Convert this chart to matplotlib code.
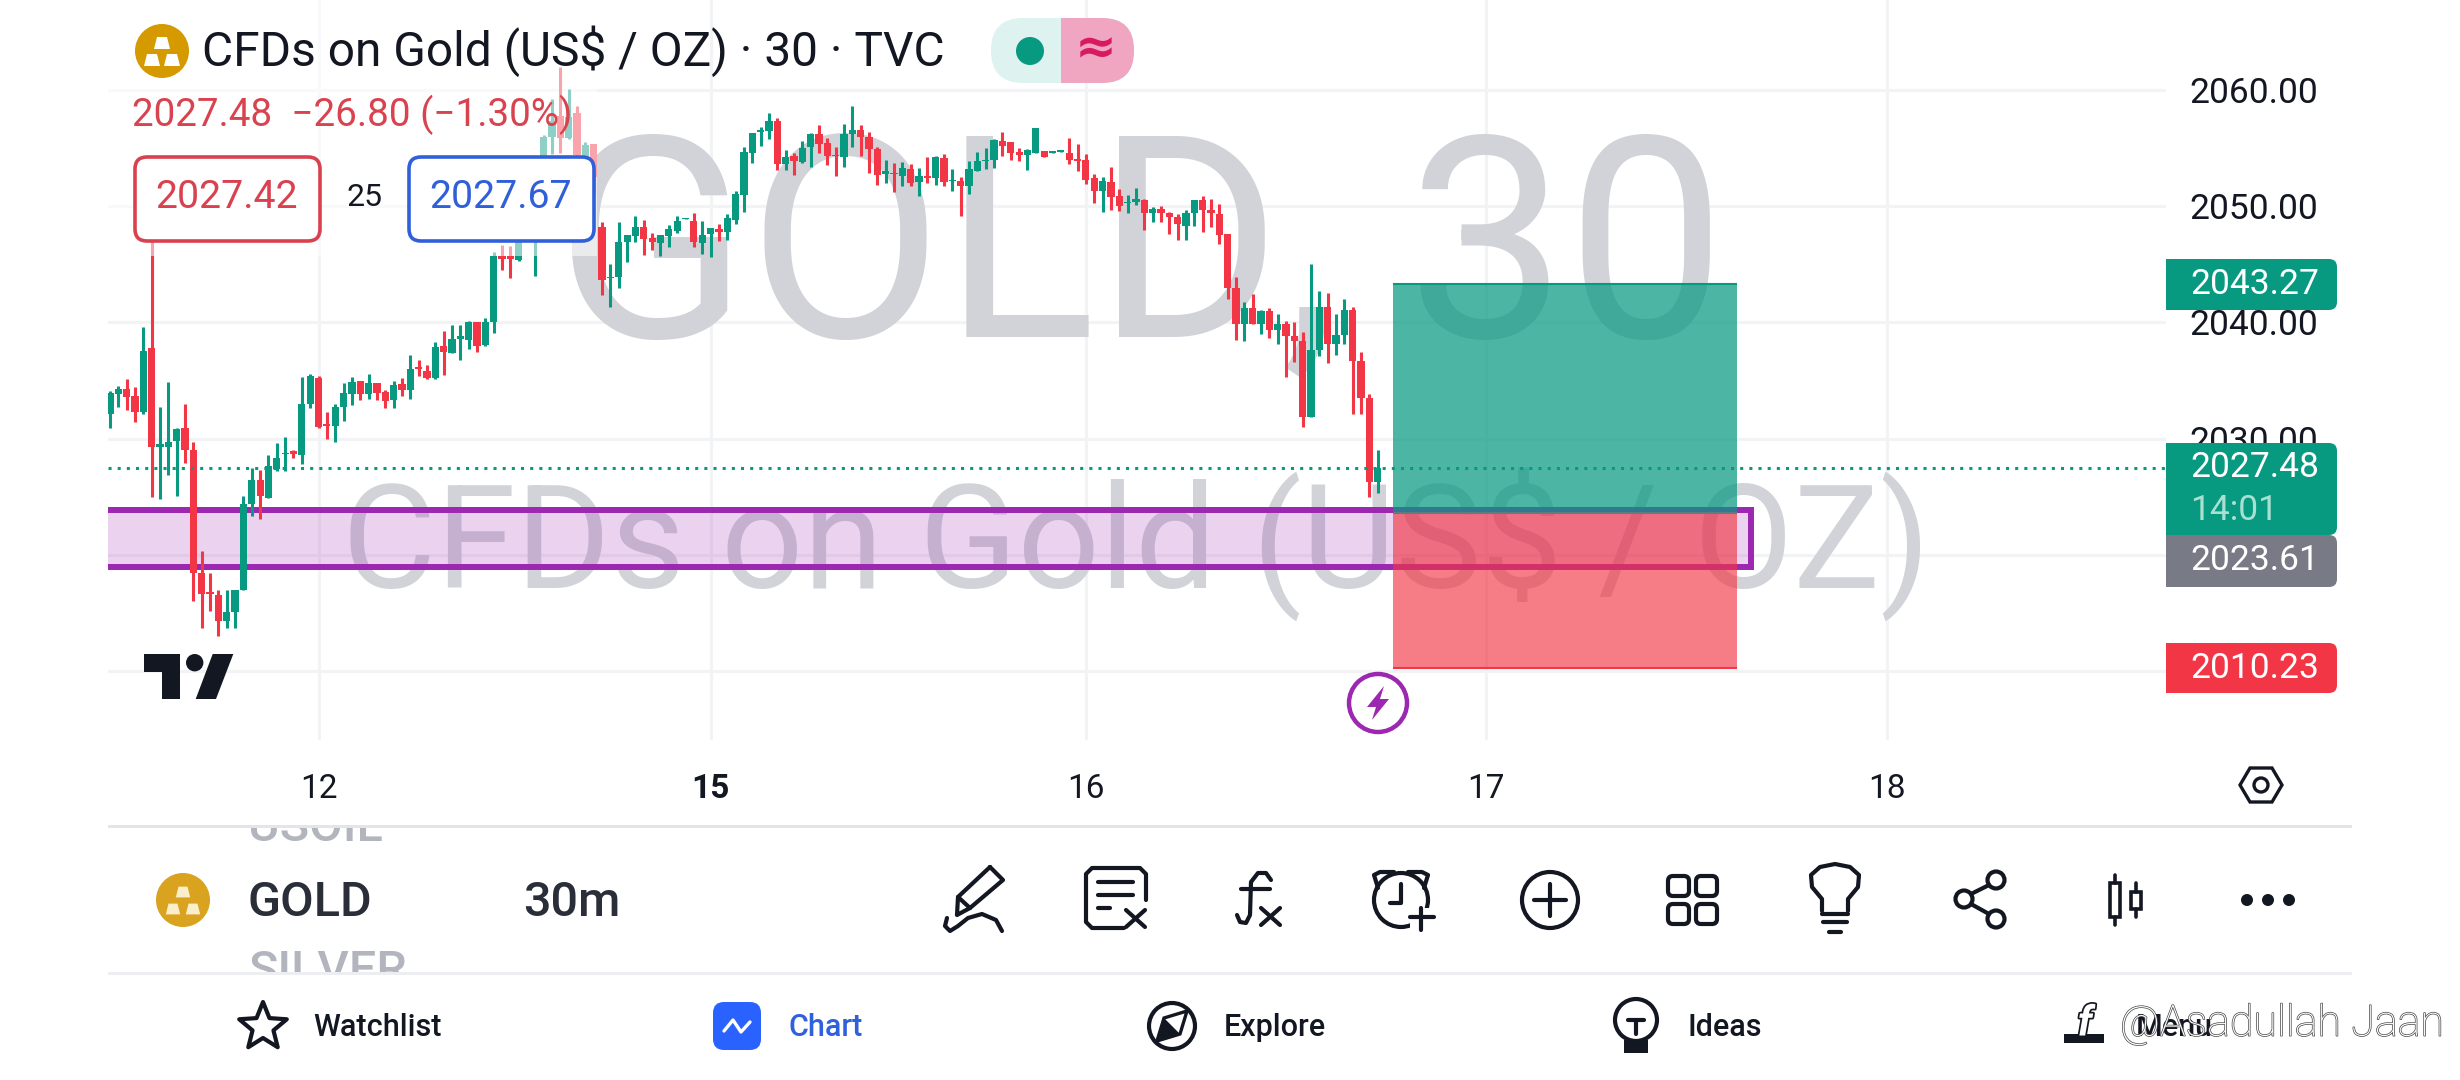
"""TradingView mobile screenshot: GOLD 30m candles with a long position and a zone."""

import matplotlib
matplotlib.use("Agg")
import matplotlib.patheffects as pe
import matplotlib.pyplot as plt
import numpy as np
from matplotlib.patches import Circle, FancyBboxPatch, Polygon, Rectangle

plt.rcParams["font.family"] = ["Roboto", "DejaVu Sans"]

opens = [
    2032.1, 2033.8, 2034.3, 2033.7, 2032.3, 2037.8, 2029.3, 2029.3, 2029.8, 2030.9,
    2029.0, 2018.4, 2016.8, 2016.5, 2014.3, 2015.1, 2017.0, 2024.4, 2026.4, 2024.9,
    2027.4, 2028.7, 2028.9, 2028.6, 2033.0, 2035.2, 2031.3, 2031.1, 2032.75, 2033.8,
    2035.0, 2033.8, 2034.8, 2034.0, 2033.3, 2034.7, 2034.2, 2036.2, 2035.8, 2035.2,
    2038.0, 2037.4, 2038.6, 2038.5, 2040.0, 2038.05, 2040.0, 2045.7, 2045.7, 2045.4,
    2049.1, 2048.2, 2054.0, 2056.0, 2057.8, 2055.9, 2058.05, 2052.5, 2055.35, 2048.2,
    2043.8, 2043.9, 2046.9, 2047.4, 2048.2, 2047.3, 2046.8, 2047.4, 2047.9, 2048.9,
    2048.7, 2046.8, 2047.6, 2048.0, 2047.8, 2048.8, 2051.0, 2054.55, 2056.4, 2056.5,
    2057.3, 2053.6, 2054.3, 2053.8, 2055.1, 2056.2, 2055.4, 2054.4, 2054.2, 2056.2,
    2056.55, 2056.0, 2054.9, 2052.8, 2052.9, 2052.6, 2053.2, 2052.1, 2052.6, 2052.4,
    2054.15, 2052.2, 2052.2, 2051.7, 2053.05, 2053.9, 2054.0, 2055.6, 2055.5, 2054.7,
    2054.4, 2054.6, 2054.75, 2054.6, 2054.7, 2054.55, 2054.1, 2054.0, 2052.4, 2051.3,
    2052.1, 2050.9, 2050.25, 2050.4, 2050.5, 2049.4, 2049.8, 2049.4, 2049.05, 2048.3,
    2049.4, 2050.5, 2049.7, 2049.3, 2047.6, 2043.0, 2039.9, 2041.25, 2039.9, 2041.0,
    2039.35, 2039.9, 2038.8, 2038.4, 2031.85, 2037.6, 2041.3, 2038.15, 2038.95, 2041.1,
    2036.7, 2033.5, 2026.3,
]
highs = [
    2034.1, 2034.5, 2035.1, 2034.4, 2039.6, 2050.0, 2032.7, 2034.9, 2030.9, 2033.0,
    2029.7, 2020.3, 2018.4, 2017.0, 2017.0, 2017.0, 2025.1, 2027.5, 2027.3, 2028.6,
    2029.6, 2030.1, 2029.0, 2035.3, 2035.6, 2035.4, 2032.3, 2033.0, 2034.8, 2035.3,
    2035.0, 2035.6, 2034.8, 2034.2, 2035.0, 2035.2, 2037.2, 2036.8, 2036.3, 2038.3,
    2039.3, 2039.75, 2039.8, 2040.1, 2040.0, 2040.35, 2046.1, 2046.7, 2046.6, 2048.2,
    2051.1, 2051.1, 2056.1, 2059.2, 2062.0, 2060.1, 2058.6, 2055.5, 2055.35, 2048.6,
    2045.0, 2048.6, 2047.5, 2049.15, 2048.8, 2047.7, 2047.5, 2048.4, 2049.15, 2049.0,
    2049.4, 2048.7, 2048.1, 2048.5, 2049.3, 2051.3, 2055.1, 2056.3, 2056.8, 2058.0,
    2057.6, 2054.8, 2054.55, 2055.6, 2056.3, 2057.0, 2055.9, 2055.1, 2057.1, 2058.6,
    2057.0, 2056.4, 2055.1, 2054.0, 2053.75, 2053.8, 2053.6, 2053.3, 2054.2, 2054.3,
    2054.5, 2053.2, 2052.5, 2053.9, 2054.7, 2055.0, 2055.8, 2056.4, 2055.55, 2055.0,
    2054.9, 2056.7, 2054.75, 2054.75, 2054.8, 2055.85, 2055.35, 2054.5, 2052.8, 2052.5,
    2053.35, 2051.45, 2051.0, 2051.6, 2050.65, 2049.9, 2050.0, 2049.5, 2049.3, 2049.7,
    2050.5, 2050.9, 2050.6, 2050.2, 2047.6, 2043.9, 2041.8, 2042.45, 2041.1, 2041.2,
    2040.7, 2040.1, 2040.0, 2039.2, 2045.0, 2042.7, 2042.5, 2040.7, 2042.0, 2041.3,
    2037.45, 2033.8, 2029.0,
]
lows = [
    2030.9, 2032.7, 2032.5, 2031.4, 2032.1, 2025.0, 2024.8, 2026.9, 2025.1, 2027.9,
    2016.05, 2013.7, 2015.2, 2013.0, 2013.7, 2013.7, 2017.0, 2023.3, 2023.05, 2024.9,
    2027.2, 2027.2, 2028.3, 2027.8, 2032.6, 2030.9, 2030.0, 2029.7, 2031.5, 2032.9,
    2033.3, 2033.4, 2033.3, 2032.6, 2032.6, 2033.7, 2033.4, 2035.4, 2035.1, 2035.1,
    2035.5, 2037.4, 2036.8, 2037.7, 2037.45, 2038.0, 2039.1, 2044.5, 2043.8, 2045.3,
    2048.5, 2044.0, 2053.1, 2054.5, 2054.6, 2055.8, 2053.7, 2052.0, 2051.1, 2042.4,
    2041.3, 2043.0, 2045.2, 2046.95, 2045.8, 2046.2, 2045.7, 2046.5, 2047.7, 2048.9,
    2046.5, 2045.9, 2045.6, 2047.0, 2047.1, 2048.5, 2049.5, 2053.7, 2055.2, 2055.8,
    2053.1, 2053.1, 2052.7, 2053.7, 2053.4, 2054.6, 2053.55, 2052.6, 2053.4, 2055.1,
    2054.3, 2052.9, 2051.8, 2052.0, 2051.2, 2051.7, 2051.7, 2050.9, 2052.0, 2051.8,
    2051.7, 2051.3, 2049.2, 2051.05, 2053.0, 2053.2, 2053.3, 2054.3, 2054.0, 2053.9,
    2053.1, 2054.6, 2054.2, 2054.6, 2054.7, 2053.6, 2053.0, 2051.9, 2050.3, 2049.5,
    2049.7, 2049.6, 2049.45, 2050.1, 2047.95, 2048.6, 2048.65, 2047.6, 2047.1, 2047.1,
    2048.3, 2047.8, 2048.25, 2046.75, 2042.0, 2038.5, 2038.4, 2039.9, 2039.0, 2038.7,
    2038.1, 2035.3, 2036.6, 2031.0, 2031.85, 2037.1, 2036.5, 2037.2, 2038.15, 2032.1,
    2032.1, 2025.0, 2025.35,
]
closes = [
    2033.9, 2034.3, 2033.6, 2032.3, 2037.5, 2029.3, 2029.5, 2029.7, 2030.8, 2029.0,
    2018.4, 2016.6, 2016.6, 2014.3, 2015.1, 2017.0, 2024.4, 2026.4, 2025.1, 2027.6,
    2028.3, 2028.8, 2028.7, 2033.0, 2035.4, 2031.0, 2031.1, 2032.7, 2033.9, 2034.9,
    2033.8, 2034.8, 2033.9, 2033.2, 2034.6, 2034.2, 2036.0, 2036.0, 2035.2, 2037.85,
    2037.45, 2038.6, 2038.8, 2040.0, 2038.0, 2040.0, 2045.7, 2045.5, 2045.5, 2046.95,
    2050.5, 2050.0, 2056.0, 2057.3, 2055.9, 2057.7, 2054.4, 2055.3, 2052.5, 2043.65,
    2043.9, 2046.95, 2047.5, 2048.2, 2047.2, 2046.9, 2047.5, 2048.0, 2048.7, 2049.0,
    2046.9, 2047.5, 2048.1, 2047.8, 2048.95, 2051.05, 2054.7, 2056.3, 2056.6, 2057.3,
    2053.6, 2054.2, 2053.9, 2055.0, 2056.2, 2055.35, 2054.3, 2054.3, 2056.2, 2056.6,
    2056.0, 2054.9, 2052.7, 2053.0, 2052.8, 2053.3, 2052.0, 2052.6, 2052.4, 2054.2,
    2052.1, 2052.3, 2051.7, 2053.2, 2053.9, 2054.0, 2055.7, 2055.2, 2054.6, 2054.4,
    2054.8, 2056.7, 2054.2, 2054.75, 2054.8, 2054.0, 2053.9, 2052.3, 2051.3, 2052.2,
    2050.8, 2050.0, 2050.4, 2050.6, 2049.45, 2049.8, 2049.4, 2049.05, 2048.5, 2049.4,
    2050.5, 2049.7, 2049.4, 2047.5, 2043.0, 2039.9, 2041.25, 2039.9, 2041.0, 2039.35,
    2039.9, 2038.8, 2038.4, 2031.9, 2037.6, 2041.3, 2038.15, 2038.95, 2041.1, 2036.7,
    2033.5, 2026.3, 2027.48,
]

price_ticks = [2060, 2050, 2040, 2030, 2020, 2010]
day_ticks = [25, 72, 117, 165, 213]
day_labels = ["12", "15", "16", "17", "18"]

last_price = 2027.48
position_top = 2043.27
position_entry = 2023.61
position_stop = 2010.23
position_start = 153.8
position_end = 195.1
zone_top = 2023.86
zone_bottom = 2018.98
zone_end = 196.8

UP = "#089981"
DOWN = "#f23645"
INK = "#131722"
PURPLE = "#9c27b0"
GRID = "#f1f3f5"
MARK = "#d1d3d8"

fig = plt.figure(figsize=(24.6, 10.8), dpi=100, facecolor="white")
ax = fig.add_axes([108 / 2460, 340 / 1080, 2058 / 2460, 740 / 1080])
ax.set_xlim(-0.24, 246.5)
ax.set_ylim(2004.06, 2067.75)
for side in ax.spines.values():
    side.set_visible(False)

ax.set_axisbelow(True)
ax.grid(True, color=GRID, lw=2.2)
ax.set_xticks(day_ticks, day_labels)
ax.set_yticks(price_ticks, [f"{p:.2f}" for p in price_ticks])
ax.yaxis.tick_right()
ax.tick_params(axis="both", length=0, labelsize=25.5, labelcolor=INK)
ax.tick_params(axis="x", pad=24, labelsize=24)
ax.tick_params(axis="y", pad=17)
ax.get_xticklabels()[1].set_fontweight("bold")

ax.text((1140 - 108) / 2058, 1 - 337 / 740, "GOLD, 30", transform=ax.transAxes, ha="center",
        va="baseline", fontsize=204, color=MARK, zorder=1)
ax.text((1136 - 108) / 2058, 1 - 588 / 740, "CFDs on Gold (US$ / OZ)", transform=ax.transAxes,
        ha="center", va="baseline", fontsize=104, color=MARK, zorder=1)

# zone sits under the candles, the position on top of the zone
ax.add_patch(Rectangle((-5, zone_bottom), zone_end + 5, zone_top - zone_bottom, facecolor=PURPLE,
                       alpha=0.2, lw=0, zorder=2))
ax.add_patch(Rectangle((-5, zone_bottom), zone_end + 5, zone_top - zone_bottom, fill=False,
                       edgecolor=PURPLE, lw=4.3, joinstyle="miter", zorder=2.1))

o = np.array(opens)
c = np.array(closes)
idx = np.arange(len(o))
colors = [UP if b >= a else DOWN for a, b in zip(o, c)]
ax.vlines(idx, lows, highs, colors=colors, lw=2.2, zorder=3)
ax.bar(idx, np.abs(c - o), bottom=np.minimum(o, c), width=0.87, color=colors, lw=0, zorder=3.1)

ax.axhline(last_price, color=UP, lw=2.2, ls=(0, (1, 2)), zorder=3.5)

span = position_end - position_start
ax.add_patch(Rectangle((position_start, position_entry), span, position_top - position_entry,
                       facecolor=UP, alpha=0.72, lw=0, zorder=4))
ax.add_patch(Rectangle((position_start, position_stop), span, position_entry - position_stop,
                       facecolor=DOWN, alpha=0.65, lw=0, zorder=4))
ax.hlines([position_top, position_entry, position_stop], position_start, position_end,
          colors=[UP, "#5f7d80", DOWN], lw=1.5, zorder=4.1)

# everything that is app chrome is drawn in screen pixels on a second axes
ui = fig.add_axes([0, 0, 1, 1], zorder=5)
ui.set_xlim(0, 2460)
ui.set_ylim(1080, 0)
ui.axis("off")
ui.patch.set_alpha(0)


def to_px(price):
    return 1080 - ax.transData.transform((0, price))[1]


def stroke(xs, ys, lw=3.0, color=INK, z=8):
    ui.plot(xs, ys, color=color, lw=lw, solid_capstyle="round", solid_joinstyle="round", zorder=z)


def ring(x, y, r, lw=3.0, color=INK, face="none", z=8):
    ui.add_patch(Circle((x, y), r, facecolor=face, edgecolor=color, lw=lw, zorder=z))


def round_box(x0, y0, x1, y1, r, face, edge="none", lw=0, z=8):
    ui.add_patch(FancyBboxPatch((x0, y0), x1 - x0, y1 - y0, boxstyle=f"round,pad=0,rounding_size={r}",
                                facecolor=face, edgecolor=edge, lw=lw, zorder=z))


def gold_bars(x, y, scale, face, bar):
    ui.add_patch(Circle((x, y), 27, facecolor=face, lw=0, zorder=8))
    for dx, dy in [(0, -8), (-10, 9), (10, 9)]:
        pts = [(x + dx - 8 * scale, y + dy + 6 * scale), (x + dx - 5 * scale, y + dy - 6 * scale),
               (x + dx + 5 * scale, y + dy - 6 * scale), (x + dx + 8 * scale, y + dy + 6 * scale)]
        ui.add_patch(Polygon(pts, closed=True, facecolor=bar, lw=0, zorder=9))


def price_tag(y0, y1, face):
    ui.add_patch(Rectangle((2166, y0), 30, y1 - y0, facecolor=face, lw=0, zorder=7))
    round_box(2166, y0, 2337, y1, 8, face, z=7)


# the legend block washes out whatever lies under it
ui.add_patch(Rectangle((108, 0), 489, 256, facecolor="white", alpha=0.55, lw=0, zorder=1))

gold_bars(162, 51, 1.0, "#d49a00", "white")
ui.text(202, 51, "CFDs on Gold (US$ / OZ) · 30 · TVC", fontsize=34.5, color=INK, va="center", zorder=8)
ui.add_patch(FancyBboxPatch((991, 18), 143, 65, boxstyle="round,pad=0,rounding_size=32",
                            facecolor="#def3ef", lw=0, zorder=7))
pill = FancyBboxPatch((991, 18), 143, 65, boxstyle="round,pad=0,rounding_size=32",
                      facecolor="#f0a5c0", lw=0, zorder=7.1)
ui.add_patch(pill)
pill.set_clip_path(Rectangle((1061, 0), 100, 100, transform=ui.transData))
ui.add_patch(Circle((1030, 51), 14, facecolor=UP, lw=0, zorder=8))
ui.text(1096, 49, "≈", fontsize=36, color="#d81b60", ha="center", va="center", weight="bold",
        family=["DejaVu Sans"], zorder=8)

ui.text(132, 115, "2027.48  −26.80 (−1.30%)", fontsize=27.8, color="#d9434f", va="center", zorder=8)
round_box(135, 157, 320, 241, 12, "white", "#d9414f", 2.6)
ui.text(227, 198, "2027.42", fontsize=28.3, color="#d9414f", ha="center", va="center", zorder=9)
ui.text(364, 198, "25", fontsize=23, color=INK, ha="center", va="center", zorder=9)
round_box(409, 157, 594, 241, 12, "white", "#2f5fd9", 2.6)
ui.text(501, 198, "2027.67", fontsize=28.3, color="#2f5fd9", ha="center", va="center", zorder=9)

# TV logo
ui.add_patch(Polygon([(144, 654), (180, 654), (180, 699), (162, 699), (162, 672), (144, 672)],
                     closed=True, facecolor=INK, lw=0, zorder=8))
ui.add_patch(Circle((194.7, 662.7), 8.7, facecolor=INK, lw=0, zorder=8))
ui.add_patch(Polygon([(212.7, 654), (233.3, 654), (216, 699), (195.7, 699)], closed=True, facecolor=INK,
                     lw=0, zorder=8))

# bolt marker
ring(1378, 703, 29, lw=3.2, color=PURPLE, face="white")
ui.add_patch(Polygon([(1384, 686), (1367, 707), (1376, 707), (1372, 720), (1389, 699), (1380, 699)],
                     closed=True, facecolor=PURPLE, lw=0, zorder=9))

# price scale tags
price_tag(259, 310, UP)
price_tag(443, 535, UP)
price_tag(535, 587, "#787b86")
price_tag(643, 693, DOWN)
tag_font = 25.5
ui.text(2190, to_px(position_top), f"{position_top:.2f}", fontsize=tag_font, color="white", va="center", zorder=9)
ui.text(2190, to_px(last_price), f"{last_price:.2f}", fontsize=tag_font, color="white", va="center", zorder=9)
ui.text(2190, 511, "14:01", fontsize=tag_font, color="#a8e0d2", va="center", zorder=9)
ui.text(2190, 561, f"{position_entry:.2f}", fontsize=tag_font, color="white", va="center", zorder=9)
ui.text(2190, to_px(position_stop), f"{position_stop:.2f}", fontsize=tag_font, color="white", va="center", zorder=9)

# hexagon settings button
hx, hy = 2261, 785
ui.add_patch(Polygon([(hx - 21, hy), (hx - 11, hy - 17), (hx + 11, hy - 17), (hx + 21, hy),
                      (hx + 11, hy + 17), (hx - 11, hy + 17)], closed=True, fill=False,
                     edgecolor=INK, lw=2.4, zorder=8))
ring(hx, hy, 7, lw=2.4)

# separators
ui.add_patch(Rectangle((108, 825), 2244, 3, facecolor="#e3e5e8", lw=0, zorder=8))
ui.add_patch(Rectangle((108, 972), 2244, 3, facecolor="#eceef2", lw=0, zorder=8))

# symbol row
gold_bars(183, 900, 0.9, "#d9a21f", "#fbeecb")
ui.text(248, 903, "GOLD", fontsize=35, color="#2a2e39", va="center", weight="medium", zorder=8)
ui.text(523, 903, "30m", fontsize=35, color="#2a2e39", va="center", weight="medium", zorder=8)
for y, label in [(828, "USOIL"), (972, "SILVER")]:
    t = ui.text(248, y, label, fontsize=35, color="#b2b5be", va="center", weight="medium", zorder=7,
                clip_on=True)
    t.set_clip_path(Rectangle((100, 828), 600, 144, transform=ui.transData))

# pen
stroke([990, 1003, 970, 957, 958, 990], [867, 880, 908, 915, 897, 867])
stroke([958, 970], [897, 908])
stroke([947, 945, 950, 958, 968, 982, 996, 1002], [918, 926, 931, 926, 918, 914, 920, 931])
# list with x
stroke([1124, 1092, 1086, 1086, 1092, 1140, 1146, 1146], [928, 928, 922, 874, 868, 868, 874, 900])
stroke([1098, 1133], [882, 882])
stroke([1098, 1133], [895, 895])
stroke([1098, 1110], [908, 908])
stroke([1126, 1145], [910, 927])
stroke([1145, 1126], [910, 927])
# fx
stroke([1271, 1266, 1258, 1251, 1250, 1246, 1240, 1237], [880, 873, 873, 882, 915, 923, 922, 915])
stroke([1241, 1270], [889, 889])
stroke([1261, 1280], [908, 925])
stroke([1280, 1261], [908, 925])
# alarm
ring(1401, 900, 27)
stroke([1378, 1374, 1380, 1394], [888, 875, 872, 872])
stroke([1424, 1428, 1422, 1408], [888, 875, 872, 872])
stroke([1401, 1401, 1390], [884, 903, 903])
ui.add_patch(Rectangle((1410, 908), 26, 24, facecolor="white", lw=0, zorder=8.5))
stroke([1421, 1421], [908, 930], z=9)
stroke([1410, 1434], [917, 917], z=9)
# plus in circle
ring(1550, 900, 28)
stroke([1550, 1550], [884, 916])
stroke([1534, 1566], [900, 900])
# four squares
for qx, qy in [(1668, 876), (1696, 876), (1668, 904), (1696, 904)]:
    round_box(qx, qy, qx + 21, qy + 20, 5, "none", INK, 3.0)
# bulb
stroke([1822, 1822, 1812, 1811, 1820, 1835, 1850, 1859, 1858, 1848, 1848],
       [911, 899, 887, 875, 867, 864, 867, 875, 887, 899, 911])
stroke([1822, 1848], [914, 914])
stroke([1823, 1847], [922, 922])
stroke([1829, 1841], [932, 932])
# share
for sx, sy in [(1996, 880), (1964, 899), (1996, 919)]:
    ring(sx, sy, 8.5)
stroke([1971, 1989], [894, 885])
stroke([1971, 1989], [904, 914])
# candles
ui.add_patch(Rectangle((2110, 883), 10, 34, fill=False, edgecolor=INK, lw=2.6, zorder=8))
stroke([2115, 2115], [875, 883], lw=2.6)
stroke([2115, 2115], [917, 925], lw=2.6)
ui.add_patch(Rectangle((2131, 892), 10, 17, fill=False, edgecolor=INK, lw=2.6, zorder=8))
stroke([2136, 2136], [883, 892], lw=2.6)
stroke([2136, 2136], [909, 917], lw=2.6)
# dots
for dx in (2247, 2268, 2289):
    ui.add_patch(Circle((dx, 900), 6, facecolor=INK, lw=0, zorder=8))

# nav bar
nav_y = 1028
angles = np.deg2rad(np.arange(-90, 270, 36))
radii = np.tile([25, 11], 5)
ui.add_patch(Polygon(np.c_[263 + radii * np.cos(angles), 1027 + radii * np.sin(angles)], closed=True,
                     fill=False, edgecolor=INK, lw=3.0, joinstyle="round", zorder=8))
ui.text(313, nav_y, "Watchlist", fontsize=22, color=INK, va="center", weight="medium", zorder=8)
round_box(713, 1002, 761, 1050, 11, "#2962ff")
stroke([724, 733, 741, 750], [1031, 1020, 1032, 1022], lw=2.4, color="white", z=9)
ui.text(789, nav_y, "Chart", fontsize=22, color="#3061dd", va="center", weight="medium", zorder=8)
ring(1172, 1026, 23)
ui.add_patch(Polygon([(1187, 1011), (1180, 1034), (1157, 1041), (1164, 1018)], closed=True, fill=False,
                     edgecolor=INK, lw=2.4, zorder=8))
ui.add_patch(Polygon([(1180, 1034), (1157, 1041), (1164, 1018)], closed=True, facecolor=INK, lw=0, zorder=8))
ui.text(1224, nav_y, "Explore", fontsize=22, color=INK, va="center", weight="medium", zorder=8)
ring(1636, 1020, 21)
stroke([1628, 1644], [1020, 1020])
stroke([1636, 1636], [1020, 1034])
ui.add_patch(Rectangle((1624, 1040), 24, 13, facecolor=INK, lw=0, zorder=8))
ui.text(1688, nav_y, "Ideas", fontsize=22, color=INK, va="center", weight="medium", zorder=8)
ui.text(2136, nav_y, "Menu", fontsize=22, color=INK, va="center", weight="medium", zorder=8)

# uploader's watermark
ui.add_patch(Rectangle((2064, 1034), 40, 9, facecolor=INK, lw=0, zorder=9))
ui.text(2085, 1024, "f", fontsize=30, color="white", style="italic", weight="bold", ha="center",
        va="center", zorder=10, path_effects=[pe.withStroke(linewidth=2.5, foreground=INK)])
ui.text(2120, 1024, "@Asadullah Jaan", fontsize=31, color="white", va="center", weight="light", zorder=10,
        path_effects=[pe.withStroke(linewidth=1.0, foreground="#444444")])

fig.savefig("out.png", dpi=100)
